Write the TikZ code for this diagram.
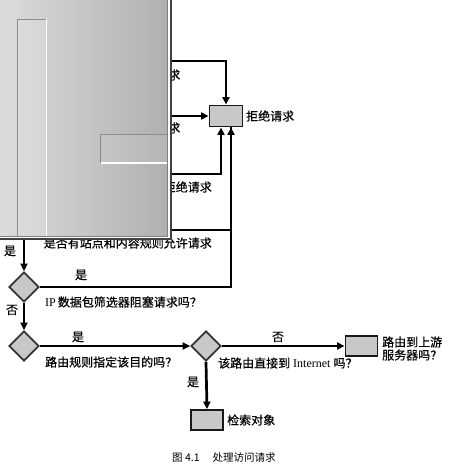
\documentclass[tikz,border=0pt]{standalone}
\usepackage{fontspec}
\newfontfamily\cjk[FakeBold=0.45]{Noto Sans CJK SC}
\newfontfamily\capfont{Noto Sans CJK SC}
\newfontfamily\lat{Liberation Serif}
\usetikzlibrary{shapes.geometric,arrows.meta}
\definecolor{boxgray}{RGB}{200,200,200}
\definecolor{panL}{RGB}{220,220,220}
\definecolor{panR}{RGB}{176,176,176}
\begin{document}
\begin{tikzpicture}[x=1pt,y=-1pt,
  line/.style={line width=2.7pt,black},
  arr/.style={line width=2.7pt,black,-{Triangle[length=7.5pt,width=7pt]}},
  boxnode/.style={draw=black!90,line width=1.9pt,fill=boxgray,minimum width=32pt,minimum height=20pt,inner sep=0pt},
  dia/.style={diamond,draw=black!80,line width=1.7pt,fill=boxgray,minimum width=30pt,minimum height=30pt,inner sep=0pt},
  lbl/.style={font=\cjk\fontsize{12}{13}\selectfont,inner sep=0pt,anchor=west,align=left},
  captext/.style={font=\capfont\fontsize{10.5}{12}\selectfont,inner sep=0pt,anchor=west}
]
\useasboundingbox (0,0) rectangle (451,467);
\fill[white] (0,0) rectangle (451,467);

% nodes
\node[boxnode,minimum width=33pt,minimum height=21pt] (rej) at (226,116) {};
\node[dia] (ip) at (24,287) {};
\node[dia] (rt) at (24,346) {};
\node[dia] (dir) at (206,346) {};
\node[boxnode] (up) at (361.5,346) {};
\node[boxnode] (get) at (207,420) {};

% free ends hidden under the panel
\coordinate (c1) at (150,61);
\coordinate (c2) at (150,116);
\coordinate (c3) at (150,174);
\coordinate (c4) at (150,230);
\coordinate (c5) at (24,228);

% connectors
\draw[arr] (c1) -| (rej.north);
\draw[arr] (c2) -- (rej.west);
\draw[arr] (c3) -| ([xshift=-5pt]rej.south);
\draw[line] (c4) -| ([xshift=5pt]rej.south);
\draw[arr] (ip.east) -| ([xshift=5pt]rej.south);
\draw[arr] (c5) -- (ip.north);
\draw[arr] (ip.south) -- (rt.north);
\draw[arr] (rt.east) -- (dir.west);
\draw[arr] (dir.east) -- (up.west);
\draw[arr] (dir.south) -- (get.north);

% labels
\node[lbl] (tRej) at (246,116) {拒绝请求};
\node[lbl,anchor=east] (f1) at (180.5,75) {求};
\node[lbl,anchor=east] (f2) at (180.5,128) {求};
\node[lbl,anchor=east] (f3) at (212,187) {拒绝请求};
\node[lbl,anchor=east] (tAllow) at (212,243) {是否有站点和内容规则允许请求};
\node[lbl,anchor=center] (y0) at (10,251) {是};
\node[lbl,anchor=center] (y1) at (81,275) {是};
\node[lbl] (tIP) at (45,302) {{\lat IP}\,数据包筛选器阻塞请求吗？};
\node[lbl,anchor=center] (n1) at (12,310) {否};
\node[lbl,anchor=center] (y2) at (78,337) {是};
\node[lbl] (tRt) at (45,362) {路由规则指定该目的吗？};
\node[lbl,anchor=center] (n2) at (278,337) {否};
\node[lbl] (tDir) at (218,363) {该路由直接到{\lat\ Internet\ }吗？};
\node[lbl] (tUp) at (382,348.5) {路由到上游\\服务器吗？};
\node[lbl,anchor=center] (y3) at (193,382) {是};
\node[lbl] (tGet) at (227,420) {检索对象};
\node[captext] (caption) at (172,458) {图 4.1\hspace{13pt}处理访问请求};

% overlaid grey panel
\shade[left color=panL,right color=panR] (0,0) rectangle (167,236);
\fill[white,opacity=0.12] (17,19) rectangle (46,236);
\draw[black!45,line width=1pt] (17.5,236) -- (17.5,19.5) -- (46,19.5);
\draw[white,line width=1.2pt] (46.5,19) -- (46.5,236);
\fill[white,opacity=0.08] (100,134) rectangle (167,163);
\draw[black!45,line width=1pt] (100.5,163) -- (100.5,134.5) -- (167,134.5);
\draw[white,line width=1.2pt] (101,163) -- (167,163);
\draw[black!50,line width=0.8pt] (167.4,0) -- (167.4,236.4) -- (0,236.4);
\draw[white,line width=1.6pt] (169,0) -- (169,237.6) -- (0,237.6);
\draw[black!75,line width=1.4pt] (171,0) -- (171,239) -- (0,239);
\end{tikzpicture}
\end{document}
